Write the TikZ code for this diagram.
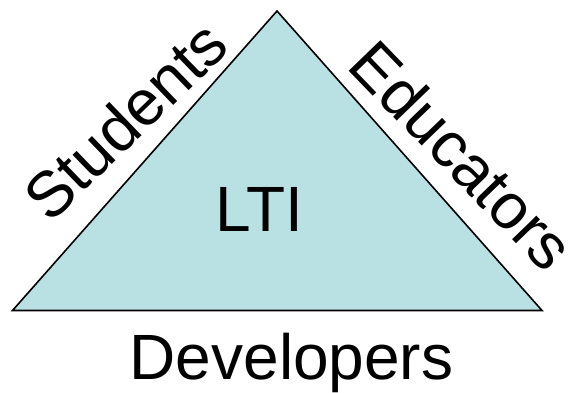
\documentclass[tikz,border=0pt]{standalone}
\usepackage{fontspec}
\setmainfont{Liberation Sans}
\definecolor{trifill}{RGB}{185,224,227}
\tikzset{
  lbl/.style={font=\fontsize{64}{70}\selectfont, inner sep=0pt, anchor=base},
  tri/.style={draw=black, fill=trifill, line width=1.6pt, line join=miter}
}
\begin{document}
\begin{tikzpicture}[x=1pt,y=-1pt]
\useasboundingbox (0,0) rectangle (569,392);
\coordinate (apex) at (277,11);
\coordinate (bl) at (12.5,310.5);
\coordinate (br) at (542,310.5);
\draw[tri] (apex) -- (bl) -- (br) -- cycle;
\node[lbl] (lti) at (259.5,231) {LTI};
\node[lbl] (dev) at (291.5,379) {Developers};
\node[lbl, rotate=44] (stu) at (141,136.5) {Students};
\node[lbl, rotate=-46] (edu) at (446,171) {Educators};
\end{tikzpicture}
\end{document}
